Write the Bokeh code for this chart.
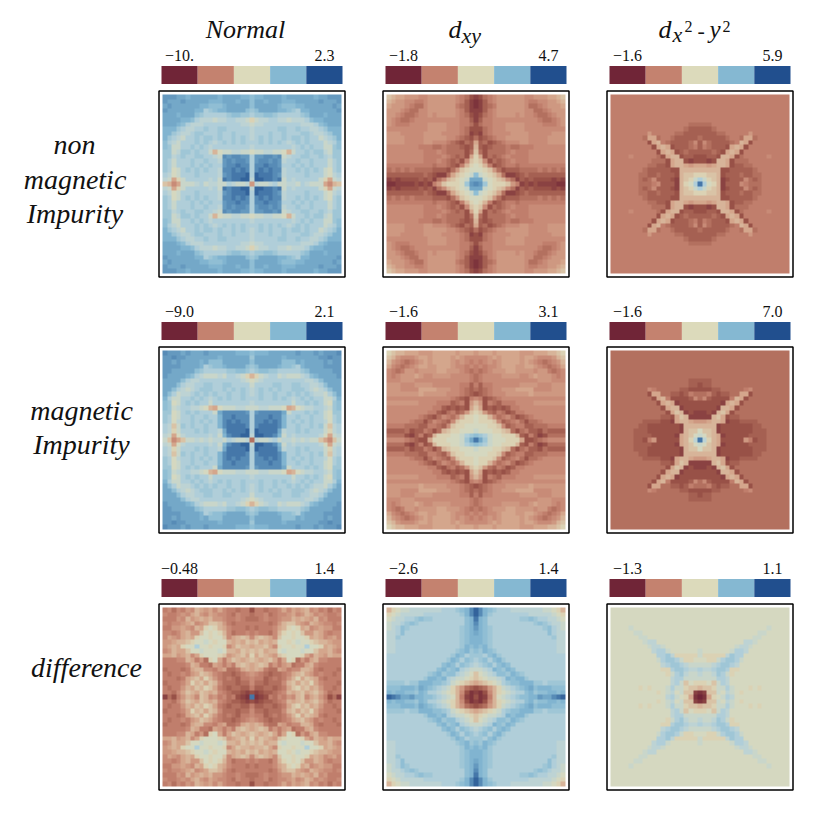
import numpy as np
from bokeh.plotting import figure
from bokeh.models import Range1d, LinearColorMapper
from bokeh.core.properties import value
from bokeh.embed import file_html
from bokeh.resources import INLINE

# Colour steps of the legends
swatch_colors = ["#702537", "#c4826f", "#dcdabb", "#85b8d2", "#214f8e"]
# Continuous scale of the heat maps
scale_colors = ["#702537", "#9a5448", "#c4826f", "#d6ab90", "#dcdabb", "#b5d1da", "#85b8d2", "#5a8fb9", "#214f8e"]

# Legend end labels, by row and column
low_labels = [["\u221210.", "\u22121.8", "\u22121.6"], ["\u22129.0", "\u22121.6", "\u22121.6"], ["\u22120.48", "\u22122.6", "\u22121.3"]]
high_labels = [["2.3", "4.7", "5.9"], ["2.1", "3.1", "7.0"], ["1.4", "1.4", "1.1"]]
low_values = [[-10.0, -1.8, -1.6], [-9.0, -1.6, -1.6], [-0.48, -2.6, -1.3]]
high_values = [[2.3, 4.7, 5.9], [2.1, 3.1, 7.0], [1.4, 1.4, 1.1]]

# Heat maps: top-left quadrant (last row/column = centre lines),
# letters a..z = position on the colour scale
normal_nonmag = [
"vvvuutuuuuuutuuuutts",
"vuuuvuuuuutttuuutuus",
"uvuuuuuuttssstuuuuus",
"vuuuuuuttqrsttuuuusr",
"uuutuuusrqqqqqrssrrq",
"uuuuttsqpppoppqqppom",
"uuutsqpppqqqqqqqqppo",
"tttrqppqqrqqrrqqqqqp",
"ttrqppqrrqqqrqqrqqqp",
"trqpoqqrqrrqrqqrqrqp",
"sqpoqqqrqrqpqrqrqrqq",
"srooqqrqrqpqqqqqqqqp",
"rroprrqrqqoknooppoon",
"rrpqrqqrrqqpowvwwvvq",
"rqoqqqrqqrqqpvwvwwvq",
"rqoqqqrqrqrqqvwwxwwq",
"rqnoqrqrqrqqpwwxwxwq",
"qpnoqqqrqqqqpvwxxxyq",
"pojmoqqqqqpqoxwxxyyp",
"lkhjooopqoppooqpoopi",
]
normal_mag = [
"wvvvuvuuuvuuuuuuttts",
"vvwvvuuuuuuutuuuuuur",
"vvuvuuuutusssuuuuuus",
"vvvvuuuutqrsstuuuusr",
"vvuuuuusrqqqqqrrssrq",
"vuuuutsqpooopoqqpomk",
"uuuusqppqqqqqqqqqpon",
"uuusqppqqrrqqrrqqqqo",
"uusqpopqrrrqqrqrqrqp",
"usqoppqrqrqrqqrqqrqp",
"tqooqqrqrqpqrqrqqrqq",
"srnoqrqrqqoqqqqqqqqp",
"sropqqpponkjnoooppoo",
"rrnoqrqrqqqouwwwwwvq",
"rqnoqqrqqrqqtwwxwwwq",
"rqnpqqrqrqrqtwxwxwwq",
"qplorqrqqrqqtwxxxxwq",
"qpmoqqqrqrqqpuxxxxyq",
"pojnpqqqqqpqotwxxyyp",
"olhjloopopoppoqpoopf",
]
dxy_nonmag = [
"lkjjiiihhiiiiiihgfdc",
"kjiihhgghiiiiiihgecb",
"jiiihgffhiiiiiigfecb",
"iiihgffhhiiiiiihgecc",
"iihgffghhihiiiihgfdc",
"ihgffghhhhhhhhhhggec",
"ihggghhhhiiiihhhggfd",
"hhhhhhhhhiiiihhhgfdd",
"iiihhhhhiiiihhhhgfcd",
"iiiihhhhiiiiihhgfedf",
"iiiihhhhiihhhgfedfej",
"hhhhhhhgggffgfffedek",
"hhhhhhhhggghgffffdfl",
"hhhhhhhhgggghgfefdjm",
"hhhhhhhhggghgfefdhlm",
"ggggggggggfggfedgkmn",
"fgfgfgffffeeedfilmnn",
"eeeeeeeefedccfjlmnos",
"cdcddddedecfhklmnouu",
"bbccccdcdcgilmmmnrvw",
]
dxy_mag = [
"mlkkjjjiiijjjjjijjji",
"lkihhhijjijjjjijihhh",
"kihgfghijijjjjihihgh",
"jhgfghijjiijjjihhghg",
"hgfgiihiiiijjiiihgfg",
"hghiiijihhiiiihhhhgf",
"hhhiiihhhhhhhhhhhhgf",
"iiihhhiiiihhhhhhggeg",
"iiihhhhjjjjiiihhgfef",
"iiiiiiijiiiiihhhgfed",
"hhhhhhhhhhhhhhgfedgh",
"iiiiiiihhhhgggefgdik",
"hhhhhhhhhhggedededjl",
"hhhhhhhhhggedfgefilm",
"hhhhhhhgfedfhgfhkmmn",
"hhhhhgffdfhgfehlmmmn",
"ggggfffeeggfehlmmnnn",
"eeeefdeegfdfklmmnnno",
"ffffdcegdekmmmnnoqrs",
"hhhhgfeddjmmmnnnorux",
]
dx2_nonmag = [
"gggggggggggggggggggg",
"gggggggggggggggggggg",
"gggggggggggggggggggg",
"gggggggggggggggggggg",
"gggggggggggggggggggg",
"gggggggggggggggggggg",
"gggggggggggggggggfff",
"ggggggggggggggggfeee",
"ggggggggigggggffeeee",
"gggggggfjjfggfeeeeef",
"ggggggggdjkgfeeeefhe",
"gggggggggdjkjdeeefge",
"ggggggggggdjkjdefeee",
"gggghgggggfdjkkdeedd",
"gggggggggfffdjkkdcdd",
"ggggggggffeedjkkjijj",
"gggggggfeeeeeddkkkkk",
"ggggggffeefeeedkllmm",
"ggggggfefheeedcklmoq",
"ggggggfffgheeeckmnqx",
]
dx2_mag = [
"ffffffffffffffffffff",
"ffffffffffffffffffff",
"ffffffffffffffffffff",
"ffffffffffffffffffff",
"ffffffffffffffffffff",
"ffffffffffffffffffff",
"fffffffffffffffffeee",
"fffffffffffffffffeed",
"ffffffffhgfffffeeddd",
"ffffffffdjjffeedegff",
"fffffffffdjkgddddehf",
"ffffffffffdjkjcddddd",
"fffffffffffdjkkcdddd",
"ffffffffffffdjlkcdcc",
"fffffffffffeedjlkccc",
"fffffffeeeeddcjkkjii",
"ffffffeedddddddckkkk",
"fffffeeedddddddcklln",
"fffffeeeedddddcjklno",
"fffffeedgidddddjkmpx",
]
diff_normal = [
"ghfhgihkjijhjhggfggd",
"hgghihjkihjihhgfhggf",
"gggihkijkjkiihgghgff",
"hghhijkhijllkigfgggg",
"ggiijihkjmnmkjhgggfg",
"hhghjkiilnmnmkhfgghg",
"hjihjkjmnnmnnlhjklkh",
"iijkklmnnonmnnkjkjlk",
"ijkjmnnqnnmnnmhjlkkj",
"hikjjlnnonnnonkkjlkl",
"jjkijkhjmnnnmlijkljm",
"ggghhkjgifmnjgjlkjkl",
"ggggghkjggfjigigklkj",
"fgggfgjkkhhgijffgjkj",
"gfgghgijlkjhgffefghi",
"gggfgjkljmkigfgfeggh",
"fggghjmkljlkhfffeffh",
"gfggikjlkmljgfeffeeg",
"ggfhjlkjlkjkhgfeedcd",
"cfdgikjhlkhighfgdcbx",
]
diff_dxy = [
"kmnoopppppppqqqrstwy",
"mnopppppqqqqqqqqrtwy",
"noppqqrsrrqqqqqqqstx",
"oppqrsrqqqqqqqqqqstw",
"opqsrqqqqqqqqqqqrstv",
"ppqsqqqqqqqqqqqqrstu",
"pprqqqqqqqqqqqqqrstt",
"ppqqqqqqqqqqqqqqrstt",
"ppqqqqqqqqqqqqqqrtst",
"ppqqqqqqqqqqqqqrstrs",
"qqqqqqqqqqqqqqrtsqrr",
"qqqqqqqqqqqqqrtsqsrq",
"qqqqqqqqqqqqstsqsrqp",
"qqqqqqqqqqqstrstqpoo",
"qqqqqqqqqrstrssqponl",
"qqqqqqqqrttstqpoonml",
"rrrrqrrtttssrqonmlkj",
"ssstttsutsrqpomkifed",
"tsttssrtsqqponmkhdbc",
"yxwuuvttssrqponkgcbd",
]
diff_dx2 = [
"nnnnnnnnnnnnnnnnnnnn",
"nnnnnnnnnnnnnnnnnnnn",
"nnnnnnnnnnnnnnnnnnnn",
"nnnnnnnnnnnnnnnnnnnn",
"nnnnonnnnnnnnnnnnnnn",
"nnnnnoonnnnnnnnnnnnn",
"nnnnnnoonnnnnnnnnnnn",
"nnnnnnnoppnnnnnnnnnn",
"nnnnnnnnopponnnnnnnn",
"nnnnnnnnnpqqonnnnnno",
"nnnnnnnnnnqqrpmmmmmo",
"nnnnnnnnnnoqrrqommnn",
"nnnnnnnnnnnpqrrqpooo",
"nnnnnnnnnnnmmqrrqppq",
"nnnnnnnnnnnnmoqrpoop",
"nnnnnnnnnnnnnpqqoooo",
"nnnnnnnnnnnnnpqolnmm",
"nnnnnnmnmnnnoqoomllk",
"nnnnnnnnnnmnopnollcb",
"nnnnnnnnnnnnpqonmjba",
]
quadrants = [[normal_nonmag, dxy_nonmag, dx2_nonmag],
             [normal_mag, dxy_mag, dx2_mag],
             [diff_normal, diff_dxy, diff_dx2]]

# Page layout in window pixels
W, H = 806, 797
frame_left = [158.5, 382.5, 606.5]
frame_top = [90.5, 346.5, 603.5]
frame_size = 186
img_inset = 3.5
img_size = 179
bar_inset = 2.5
bar_width = 181
bar_top_gap = 25
bar_height = 18

def Y(py):
    return 813 - py

def palette_from(colors, n=256):
    rgb = np.array([[int(c[i:i + 2], 16) for i in (1, 3, 5)] for c in colors], float)
    t = np.linspace(0, len(colors) - 1, n)
    out = []
    for v in t:
        i = min(int(v), len(colors) - 2)
        f = v - i
        c = rgb[i] * (1 - f) + rgb[i + 1] * f
        out.append("#%02x%02x%02x" % tuple(int(round(x)) for x in c))
    return out

PAL = palette_from(scale_colors)
SERIF = value("Liberation Serif")

p = figure(width=W, height=H, x_range=Range1d(0, W), y_range=Range1d(Y(H), Y(0)),
           output_backend="svg", toolbar_location=None, min_border=0, outline_line_color=None)
p.axis.visible = False
p.grid.visible = False

def expand(rows, lo, hi):
    q = np.array([[ord(ch) - 97 for ch in (r + r[-1] * 20)[:20]] for r in rows], float) / 25.0
    top = np.hstack([q, q[:, -2::-1]])
    return lo + (hi - lo) * np.vstack([top, top[-2::-1]])

def label(x, py, s, size, style="italic", align="center"):
    # 0.35em: offset of the text baseline in the svg output
    p.text(x=[x], y=[Y(py - 0.35 * size)], text=[s], text_font=SERIF, text_font_size=f"{size}px",
           text_font_style=style, text_align=align, text_baseline="alphabetic", text_color="#111111")

for r in range(3):
    for c in range(3):
        fx, fy = frame_left[c], frame_top[r]
        lo, hi = low_values[r][c], high_values[r][c]
        mapper = LinearColorMapper(palette=PAL, low=lo, high=hi)
        ix, iy = fx + img_inset, fy + img_inset
        p.image(image=[expand(quadrants[r][c], lo, hi)], x=ix, y=Y(iy + img_size), dw=img_size, dh=img_size,
                color_mapper=mapper)
        p.quad(left=[fx], right=[fx + frame_size], top=[Y(fy)], bottom=[Y(fy + frame_size)],
               fill_color=None, line_color="#000000", line_width=1.5)
        bx = fx + bar_inset
        sw = bar_width / 5
        lefts = [bx + i * sw for i in range(5)]
        rights = [bx + (i + 1) * sw for i in range(5)]
        p.quad(left=lefts, right=rights, top=[Y(fy - bar_top_gap)] * 5, bottom=[Y(fy - bar_top_gap + bar_height)] * 5,
               fill_color=swatch_colors, line_color=None)
        label(bx + sw / 2, fy - bar_top_gap - 4.5, low_labels[r][c], 16, style="normal")
        label(bx + 4.5 * sw, fy - bar_top_gap - 4.5, high_labels[r][c], 16, style="normal")

# Column titles
label(245, 38, "Normal", 26)
label(448, 38, "d", 26, align="left")
label(461, 43, "xy", 22, align="left")
label(658, 38, "d", 26, align="left")
label(672, 42, "x", 22, align="left")
label(684, 32, "2", 16, style="normal", align="left")
label(697, 38, "-", 22, style="normal", align="left")
label(709, 38, "y", 25, align="left")
label(722, 32, "2", 16, style="normal", align="left")

# Row titles
label(74, 154, "non", 28)
label(74.5, 189, "magnetic", 28)
label(74.5, 223, "Impurity", 28)
label(81, 420, "magnetic", 28)
label(81, 454, "Impurity", 28)
label(86, 677, "difference", 28)

open("out.html", "w").write(file_html(p, INLINE))
